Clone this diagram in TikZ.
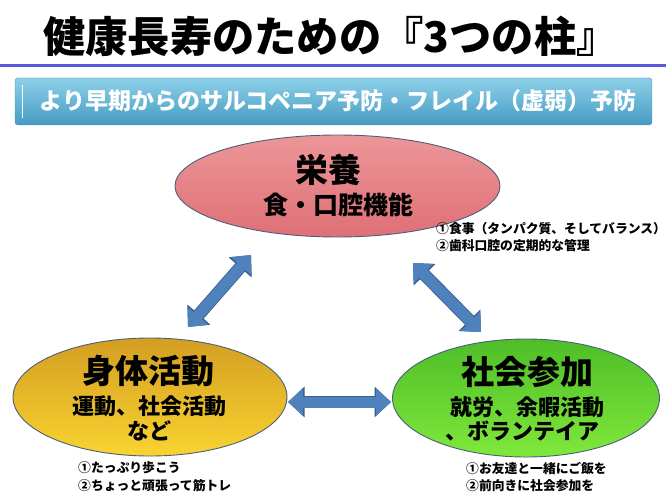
\documentclass[tikz,border=0pt]{standalone}
\usepackage{fontspec}
\setmainfont{Noto Sans CJK JP}
\usetikzlibrary{arrows.meta,shapes.geometric}
\definecolor{arrfill}{HTML}{4F81BD}
\definecolor{arrline}{HTML}{385D8A}
\definecolor{ellline}{HTML}{4A5F7E}
\tikzset{
  pillar/.style={ellipse, draw=ellline, line width=0.9pt, inner sep=0pt},
  head/.style={font=\bfseries\fontsize{33}{33}\selectfont},
  sub/.style={font=\bfseries\fontsize{22}{22}\selectfont},
  note/.style={font=\bfseries\fontsize{12.8}{15}\selectfont, anchor=west, inner sep=0pt},
  link/.style={line width=11pt, arrfill,
    {Triangle[length=15pt,width=27pt]}-{Triangle[length=15pt,width=27pt]},
    preaction={draw=arrline, line width=12.6pt,
      {Triangle[length=16.5pt,width=29.5pt]}-{Triangle[length=16.5pt,width=29.5pt]}}}
}
\begin{document}
\begin{tikzpicture}[x=1pt,y=-1pt]
\fill[white] (0,0) rectangle (666,500);
\useasboundingbox (0,0) rectangle (666,500);
% title
\node (title) at (331,36) {\bfseries\fontsize{42.3}{44}\selectfont 健康長寿のための『3つの柱』};
\draw[line width=3pt, color={rgb,255:red,90;green,90;blue,216}] (0,66) -- (666,66);
% banner
\shade[top color={rgb,255:red,140;green,208;blue,232}, bottom color={rgb,255:red,70;green,155;blue,195},
  draw={rgb,255:red,70;green,140;blue,180}, rounded corners=3pt] (15,78) rectangle (652,125);
\draw[white, line width=1pt] (22,85) -- (22,118);
\node[text=white] (banner) at (338,101) {\bfseries\fontsize{23}{23}\selectfont より早期からのサルコペニア予防・フレイル（虚弱）予防};
% pillars
\node[pillar, minimum width=325, minimum height=102, top color={rgb,255:red,236;green,150;blue,152}, bottom color={rgb,255:red,222;green,112;blue,118}] (top) at (337.5,186) {};
\node[pillar, minimum width=274, minimum height=118, top color={rgb,255:red,212;green,158;blue,34}, bottom color={rgb,255:red,248;green,212;blue,48}] (left) at (150,397) {};
\node[pillar, minimum width=267, minimum height=118, top color={rgb,255:red,78;green,190;blue,40}, bottom color={rgb,255:red,128;green,232;blue,60}] (right) at (526,398) {};
% texts
\node[head] (t1) at (328,170) {栄養};
\node[sub, font=\bfseries\fontsize{25}{25}\selectfont] (t2) at (338,205) {食・口腔機能};
\node[head] (l1) at (148,371) {身体活動};
\node[sub] (l2) at (149,406) {運動、社会活動};
\node[sub] (l3) at (149,431) {など};
\node[head] (r1) at (527,372) {社会参加};
\node[sub] (r2) at (527,407) {就労、余暇活動};
\node[sub] (r3) at (522,431) {、ボランテイア};
% notes
\node[note] (n1) at (436,229) {①食事（タンパク質、そしてバランス）};
\node[note] (n2) at (436,246) {②歯科口腔の定期的な管理};
\node[note] (n3) at (78,468) {①たっぷり歩こう};
\node[note] (n4) at (78,486) {②ちょっと頑張って筋トレ};
\node[note] (n5) at (466,468) {①お友達と一緒にご飯を};
\node[note] (n6) at (466,486) {②前向きに社会参加を};
% arrows
\coordinate (la) at (188,327);
\coordinate (lb) at (251,255);
\coordinate (ra) at (413,263);
\coordinate (rb) at (481,332);
\coordinate (ha) at (288,402);
\coordinate (hb) at (391,402);
\draw[link] (la) -- (lb);
\draw[link] (ra) -- (rb);
\draw[link] (ha) -- (hb);
\end{tikzpicture}
\end{document}
